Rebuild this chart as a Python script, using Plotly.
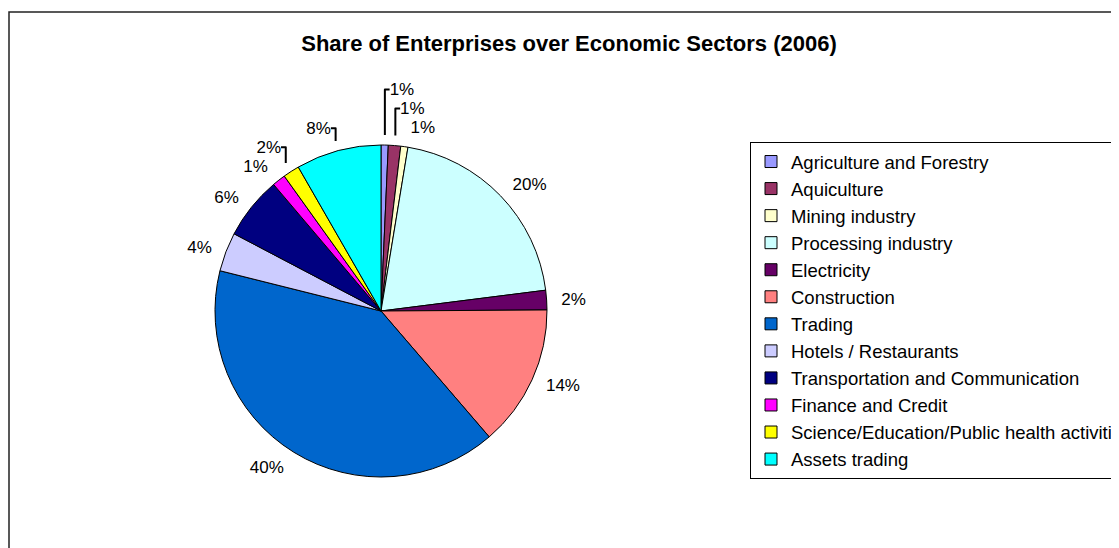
import plotly.graph_objects as go

sectors = [
    "Agriculture and Forestry",
    "Aquiculture",
    "Mining industry",
    "Processing industry",
    "Electricity",
    "Construction",
    "Trading",
    "Hotels / Restaurants",
    "Transportation and Communication",
    "Finance and Credit",
    "Science/Education/Public health activities",
    "Assets trading",
]
share = [0.7, 1.2, 0.7, 20.4, 1.9, 13.8, 40.2, 3.8, 6.1, 1.3, 1.6, 8.3]
colors = [
    "#9999FF", "#993366", "#FFFFCC", "#CCFFFF", "#660066", "#FF8080",
    "#0066CC", "#CCCCFF", "#000080", "#FF00FF", "#FFFF00", "#00FFFF",
]
title_text = "Share of Enterprises over Economic Sectors (2006)"

# page has an 8px body margin, so the figure is 8px smaller than the window
W, H = 1111, 540
FONT = "Liberation Sans, Arial, Helvetica, sans-serif"

cx, cy, r = 373, 303, 166   # pie centre / radius in figure pixels
r_lab = r + 10              # radius at which the percentage labels sit


def dom(rad):
    return dict(
        x=[(cx - rad) / W, (cx + rad) / W],
        y=[(H - cy - rad) / H, (H - cy + rad) / H],
    )


pie = go.Pie(
    labels=sectors,
    values=share,
    sort=False,
    direction="clockwise",
    rotation=0,
    marker=dict(colors=colors, line=dict(color="black", width=1)),
    textinfo="none",
    domain=dom(r),
    hoverinfo="label+percent",
)

labels_pie = go.Pie(
    labels=sectors,
    values=share,
    sort=False,
    direction="clockwise",
    rotation=0,
    marker=dict(colors=["rgba(0,0,0,0)"] * len(share), line=dict(width=0)),
    textinfo="percent",
    texttemplate="%{percent:.0%}",
    textposition="outside",
    outsidetextfont=dict(family=FONT, size=17, color="black"),
    domain=dom(r_lab),
    showlegend=False,
    hoverinfo="skip",
)

fig = go.Figure([labels_pie, pie])

fig.update_layout(
    width=W,
    height=H,
    margin=dict(l=0, r=0, t=0, b=0, autoexpand=False),
    paper_bgcolor="white",
    plot_bgcolor="white",
    font=dict(family=FONT, size=17, color="black"),
    title=dict(
        text="<b>" + title_text + "</b>",
        x=561 / W,
        xanchor="center",
        y=1 - 35 / H,
        yanchor="middle",
        font=dict(family=FONT, size=22, color="black"),
    ),
    legend=dict(
        x=742 / W,
        xanchor="left",
        y=1 - 134 / H,
        yanchor="top",
        bordercolor="black",
        borderwidth=1,
        bgcolor="white",
        font=dict(family=FONT, size=18.5, color="black"),
        traceorder="normal",
    ),
    showlegend=True,
    shapes=[
        dict(
            type="rect", xref="paper", yref="paper",
            x0=1 / W, x1=1.02, y0=-0.02, y1=1 - 4 / H,
            line=dict(color="#222222", width=1.5),
            fillcolor="rgba(0,0,0,0)", layer="below",
        )
    ],
)

fig.write_html("out.html")
